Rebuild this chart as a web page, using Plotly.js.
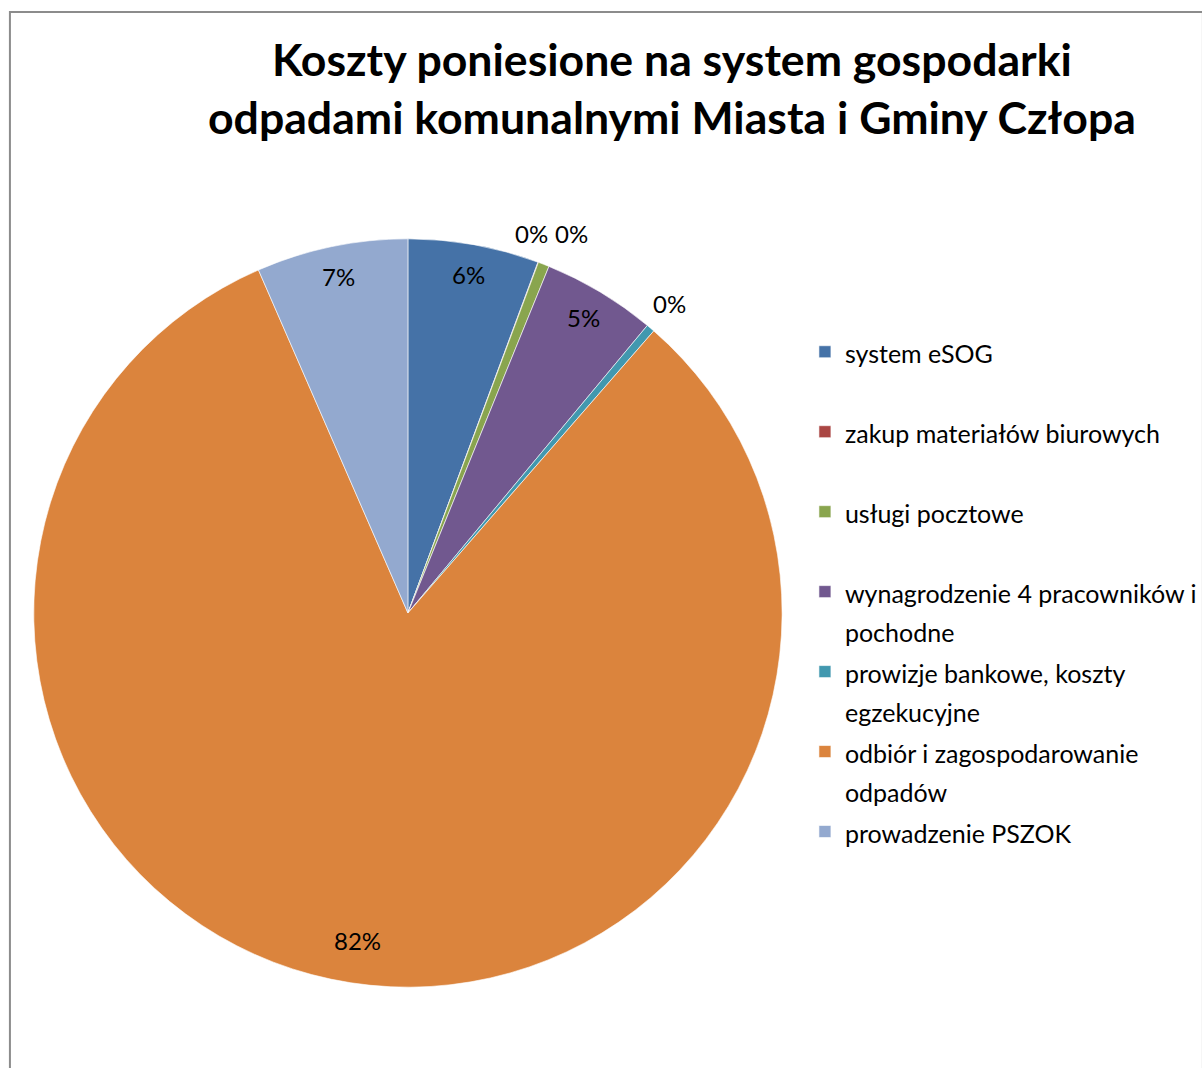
<!DOCTYPE html>
<html>
<head>
<meta charset="utf-8">
<script src="https://cdn.plot.ly/plotly-3.0.1.min.js"></script>
<style>
  html, body { margin: 0; padding: 0; background: #fff; overflow: hidden; }
  #chart { width: 1202px; height: 1068px; overflow: hidden; }
</style>
</head>
<body>
<div id="chart"></div>
<script>
// ---- data ----
const categories = [
  'system eSOG',
  'zakup materiałów biurowych',
  'usługi pocztowe',
  'wynagrodzenie 4 pracowników i pochodne',
  'prowizje bankowe, koszty egzekucyjne',
  'odbiór i zagospodarowanie odpadów',
  'prowadzenie PSZOK'
];
const legendLines = [
  ['system eSOG'],
  ['zakup materiałów biurowych'],
  ['usługi pocztowe'],
  ['wynagrodzenie 4 pracowników i', 'pochodne'],
  ['prowizje bankowe, koszty', 'egzekucyjne'],
  ['odbiór i zagospodarowanie', 'odpadów'],
  ['prowadzenie PSZOK']
];
const shares = [5.65, 0.02, 0.48, 4.9, 0.36, 82.05, 6.54];
const colors = ['#4572A7', '#AA4643', '#89A54E', '#71588F', '#4198AF', '#DB843D', '#93A9CF'];
const titleLines = ['Koszty poniesione na system gospodarki', 'odpadami komunalnymi Miasta i Gminy Człopa'];

// ---- layout constants ----
const W = 1202, H = 1068;
const CX = 411, CY = 613, R = 376;
const FONT = 'Lato, "Liberation Sans", sans-serif';
const LEG_TEXT = 25;

const legendLabels = legendLines.map(lines => {
  const l = lines.length === 1 ? [lines[0], '\u00a0'] : lines;
  return l.map(t => '<span style="font-size:' + LEG_TEXT + 'px">' + t + '</span>').join('<br>');
});

// ---- percent labels computed from data ----
const total = shares.reduce((a, b) => a + b, 0);
let cum = 0;
const labelsInfo = shares.map((v, i) => {
  const mid = (cum + v / 2) / total * 2 * Math.PI;
  cum += v;
  const pct = v / total * 100;
  const inside = pct >= 1;
  const r = inside ? (pct > 50 ? R * 0.88 : R * 0.915) : R + 30;
  return {
    text: Math.round(pct) + '%',
    x: CX + r * Math.sin(mid),
    y: CY - r * Math.cos(mid),
    inside
  };
});
// spread overlapping outside labels horizontally
const LW = 40, LH = 26;
for (let i = 0; i < labelsInfo.length - 1; i++) {
  const a = labelsInfo[i], b = labelsInfo[i + 1];
  if (a.inside || b.inside) continue;
  if (Math.abs(a.x - b.x) < LW && Math.abs(a.y - b.y) < LH) {
    const m = (a.x + b.x) / 2, my = (a.y + b.y) / 2;
    a.x = m - LW / 2; b.x = m + LW / 2;
    a.y = my; b.y = my;
  }
}
const annotations = labelsInfo.map(l => ({
  xref: 'paper', yref: 'paper',
  x: l.x / W, y: 1 - l.y / H,
  xanchor: 'center', yanchor: 'middle',
  text: l.text, showarrow: false,
  font: { family: FONT, size: 24, color: '#000' }
}));

const RD = R + 1;
const trace = {
  type: 'pie',
  labels: legendLabels,
  values: shares,
  sort: false,
  direction: 'clockwise',
  rotation: 0,
  textinfo: 'none',
  hoverinfo: 'skip',
  marker: { colors: colors, line: { color: '#ffffff', width: 0.6 } },
  domain: { x: [(CX - RD) / W, (CX + RD) / W], y: [1 - (CY + RD) / H, 1 - (CY - RD) / H] }
};

const layout = {
  width: W, height: H,
  margin: { l: 0, r: 0, t: 0, b: 0 },
  paper_bgcolor: '#ffffff',
  font: { family: FONT, color: '#000' },
  title: {
    text: titleLines.join('<br>'),
    font: { family: FONT, size: 44.6, weight: 'bold', color: '#000' },
    x: 677 / W, xanchor: 'center', xref: 'paper',
    y: 1 - 76 / H, yanchor: 'top', yref: 'container'
  },
  showlegend: true,
  legend: {
    x: 811 / W, xanchor: 'left',
    y: 1 - 326 / H, yanchor: 'top',
    valign: 'top',
    font: { family: FONT, size: 29.6, color: '#000' },
    bgcolor: 'rgba(0,0,0,0)', borderwidth: 0
  },
  annotations: annotations,
  shapes: [{
    type: 'rect', xref: 'paper', yref: 'paper',
    x0: 10 / W, x1: (W + 10) / W, y0: -10 / H, y1: 1 - 12 / H,
    line: { color: '#8c8c8c', width: 2 }
  }]
};

Plotly.newPlot('chart', [trace], layout, { displayModeBar: false, staticPlot: true });
</script>
</body>
</html>
